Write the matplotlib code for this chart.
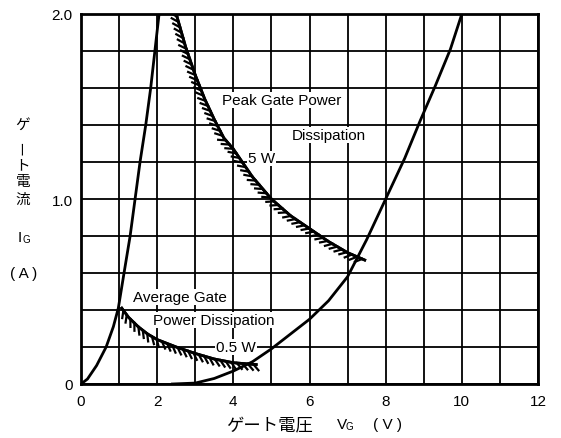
import matplotlib
matplotlib.use("Agg")
import matplotlib.pyplot as plt
import matplotlib.patheffects as pe

plt.rcParams['font.family'] = ['Liberation Sans', 'Noto Sans CJK JP', 'DejaVu Sans']

# gate characteristic curves
low_v = [0, 0.17, 0.41, 0.66, 0.85, 0.98, 1.13, 1.29, 1.42, 1.55, 1.70, 1.83, 1.94, 2.05]
low_i = [0, 0.027, 0.1, 0.2, 0.31, 0.41, 0.6, 0.8, 1.0, 1.2, 1.4, 1.6, 1.8, 2.0]
high_v = [2.4, 3.0, 3.5, 4.0, 4.5, 5.0, 5.5, 6.0, 6.5, 7.0, 7.5, 8.0, 8.5, 8.9, 9.3, 9.7, 10.0]
high_i = [0, 0.005, 0.03, 0.07, 0.12, 0.19, 0.27, 0.35, 0.45, 0.58, 0.78, 1.0, 1.22, 1.42, 1.61, 1.81, 2.0]

# power limit curves
peak_v = [2.5, 2.75, 3.0, 3.25, 3.5, 3.75, 4.0, 4.5, 5.0, 5.5, 6.0, 6.5, 7.0, 7.45]
peak_i = [2.0, 1.82, 1.67, 1.54, 1.43, 1.33, 1.27, 1.12, 1.0, 0.91, 0.84, 0.77, 0.71, 0.67]
avg_v = [1.07, 1.25, 1.5, 1.75, 2.0, 2.5, 3.0, 3.5, 4.0, 4.6]
avg_i = [0.41, 0.36, 0.31, 0.27, 0.24, 0.2, 0.165, 0.135, 0.115, 0.105]

x_ticks = [0, 2, 4, 6, 8, 10, 12]
y_ticks = [0, 1.0, 2.0]
y_labels = ['0', '1.0', '2.0']

W, H = 561, 439
fig = plt.figure(figsize=(W / 100, H / 100), dpi=100)
ax = fig.add_axes([81 / W, 1 - 385 / H, (538 - 81) / W, (385 - 15) / H])

ax.set_xlim(0, 12)
ax.set_ylim(0, 2.0)
ax.set_xticks(range(0, 13))
ax.set_yticks([i * 0.2 for i in range(11)])
ax.grid(True, color='black', linewidth=1.3)
ax.set_axisbelow(True)
ax.tick_params(length=0, labelsize=11)
ax.tick_params(axis='x', pad=7)
ax.tick_params(axis='y', pad=6)
ax.set_xticklabels([str(t) if t in x_ticks else '' for t in range(0, 13)])
ax.set_yticklabels([y_labels[y_ticks.index(round(i * 0.2, 1))] if round(i * 0.2, 1) in y_ticks else ''
                    for i in range(11)])
for s in ax.spines.values():
    s.set_linewidth(2)

ax.plot(low_v, low_i, color='black', lw=2)
ax.plot(high_v, high_i, color='black', lw=2)

# hatched power limit curves
ax.plot(peak_v, peak_i, color='black', lw=2,
        path_effects=[pe.Stroke(), pe.withTickedStroke(angle=-135, spacing=4, length=1.4, linewidth=1.6)])
ax.plot(avg_v, avg_i, color='black', lw=2,
        path_effects=[pe.Stroke(), pe.withTickedStroke(angle=-45, spacing=4, length=1.4, linewidth=1.6)])

box = dict(facecolor='white', edgecolor='none', pad=0.5)
ax.text(3.70, 1.535, 'Peak Gate Power', fontsize=11, va='center', bbox=box)
ax.text(5.54, 1.346, 'Dissipation', fontsize=11, va='center', bbox=box)
ax.text(4.38, 1.22, '5 W', fontsize=11, va='center', bbox=box)
ax.text(1.36, 0.47, 'Average Gate', fontsize=11, va='center', bbox=box)
ax.text(1.88, 0.346, 'Power Dissipation', fontsize=11, va='center', bbox=box)
ax.text(3.55, 0.2, '0.5 W', fontsize=11, va='center', bbox=box)


def px(x, y):
    return x / W, 1 - y / H


# vertical y label
for ch, y in [('ゲ', 125), ('ト', 166), ('電', 182), ('流', 200)]:
    fig.text(*px(23, y), ch, fontsize=10.5, ha='center', va='center')
fig.text(*px(23, 148), 'ー', fontsize=10.5, ha='center', va='center', rotation=90)
fig.text(*px(20, 238), 'I', fontsize=11, ha='center', va='center')
fig.text(*px(26, 240), 'G', fontsize=7, ha='center', va='center')
fig.text(*px(23.5, 274), '( A )', fontsize=11, ha='center', va='center')

# x label
fig.text(*px(226, 425), 'ゲート電圧', fontsize=12.5, ha='left', va='center')
fig.text(*px(337, 425), 'V', fontsize=11, ha='left', va='center')
fig.text(*px(346, 427), 'G', fontsize=7, ha='left', va='center')
fig.text(*px(373, 425), '( V )', fontsize=11, ha='left', va='center')

fig.savefig('out.png', dpi=100)
